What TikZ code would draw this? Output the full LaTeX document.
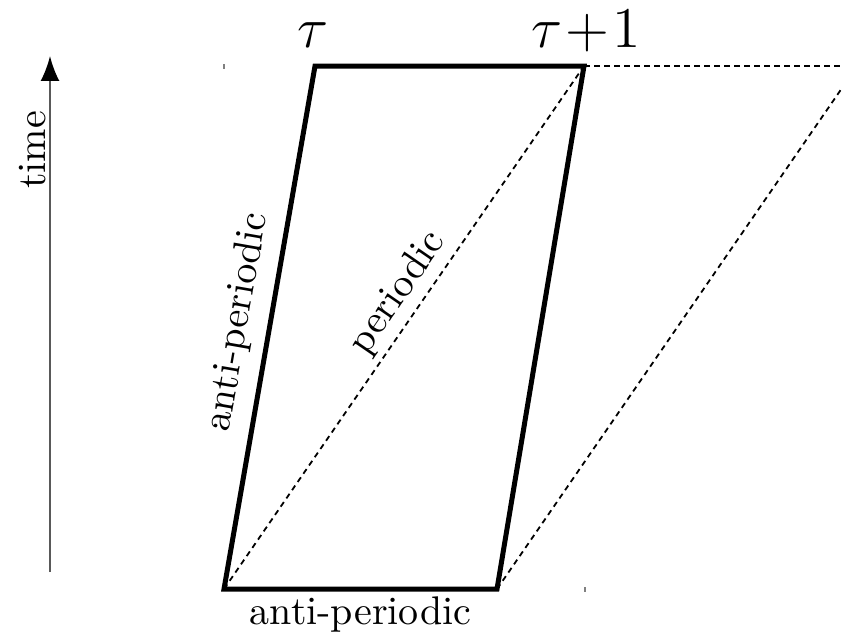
\documentclass[tikz,border=0pt]{standalone}
\usetikzlibrary{arrows.meta}
\begin{document}
\begin{tikzpicture}[x=0.25pt,y=-0.25pt,
  thickline/.style={line width=1.25pt, line join=miter},
  dashline/.style={line width=0.45pt, dash pattern=on 1.4pt off 1.1pt},
  ticklbl/.style={font=\fontsize{13.5}{16}\selectfont, anchor=base, inner sep=0pt},
  tinymark/.style={line width=0.3pt, gray}]
\useasboundingbox (0,0) rectangle (842,633);
\coordinate (A) at (224,589);
\coordinate (B) at (497,589);
\coordinate (C) at (584,66);
\coordinate (D) at (315,66);
\coordinate (E) at (842,66);
\coordinate (F) at (842,88);
% dashed helpers
\draw[dashline] (A) -- (C) node[pos=0.54, sloped, above, inner sep=1.5pt] (per) {periodic};
\draw[dashline] (C) -- (E);
\draw[dashline] (B) -- (F);
% fundamental domain
\draw[thickline] (A) -- (B) -- (C) -- (D) -- cycle;
\path (A) -- (D) node[midway, sloped, above] (apl) {anti-periodic};
\path (A) -- (B) node[midway, below, inner sep=1.8pt] (apb) {anti-periodic};
% labels
\node[ticklbl] (tau) at (313,47) {$\tau$};
\node[ticklbl] (tau1) at (586,47) {$\tau\!+\!1$};
% tiny marks
\coordinate (m1a) at (224,64); \coordinate (m1b) at (224,69);
\coordinate (m2a) at (585,587); \coordinate (m2b) at (585,592);
\draw[tinymark] (m1a) -- (m1b);
\draw[tinymark] (m2a) -- (m2b);
% time arrow
\coordinate (t0) at (50,572);
\coordinate (t1) at (50,56);
\draw[line width=0.5pt, black!65, -{Latex[length=6.2pt,width=4.7pt,black]}] (t0) -- (t1);
\node[rotate=90] (time) at (33,150) {time};
\end{tikzpicture}
\end{document}
